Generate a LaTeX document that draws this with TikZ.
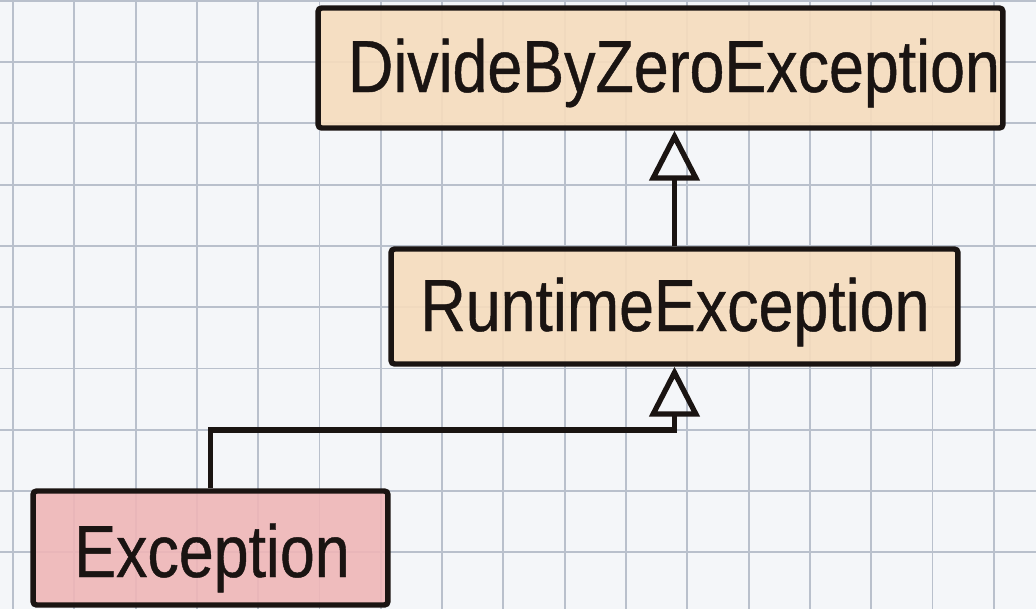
\documentclass[tikz,border=0pt]{standalone}
\usepackage{fontspec}
\usetikzlibrary{arrows.meta}
\newfontfamily\boxfont[FakeStretch=0.85, FakeBold=0.6]{Liberation Sans}

\definecolor{paper}{HTML}{F4F6F9}
\definecolor{gridblue}{HTML}{B9C0CC}
\definecolor{peach}{HTML}{F6DCBD}
\definecolor{rose}{HTML}{EFB6B7}
\definecolor{ink}{HTML}{1A1412}

\tikzset{
  gridline/.style={draw=gridblue, line width=1.1pt},
  classbox/.style={rectangle, draw=ink, line width=3.1pt, rounded corners=2pt,
    inner sep=0pt, fill opacity=0.9, text opacity=1},
  peachbox/.style={classbox, fill=peach},
  rosebox/.style={classbox, fill=rose,
    path picture={
      \foreach \k in {-8,...,8}
        \draw[white, opacity=0.45, line width=1.4pt, line cap=round]
          ([xshift=\k cm]path picture bounding box.south west)
          ++(0.3,0.2) -- ++(1.6,1.3);
    }},
  classname/.style={anchor=base, text=ink, inner sep=0pt,
    font=\boxfont\fontsize{42}{50}\selectfont},
  inherits/.style={draw=ink, line width=3pt,
    -{Triangle[open, length=1.0cm, width=1.0cm]}},
}

\begin{document}
\begin{tikzpicture}[x=0.02cm, y=-0.02cm]
  % squared paper
  \fill[paper] (0,0) rectangle (1036,609);
  \useasboundingbox (0,0) rectangle (1036,609);
  \foreach \k in {0,...,16}
    \draw[gridline] ({13+61.3*\k},0) -- ({13+61.3*\k},609);
  \foreach \k in {0,...,9}
    \draw[gridline] (0,{0.7+61.3*\k}) -- (1036,{0.7+61.3*\k});

  % class boxes
  \node[peachbox, minimum width=13.7cm, minimum height=2.4cm] (dbz) at (660.5,68) {};
  \node[peachbox, minimum width=11.34cm, minimum height=2.3cm] (rt) at (674.5,306.5) {};
  \node[rosebox, minimum width=7.1cm, minimum height=2.28cm] (ex) at (210.5,548) {};

  % class names
  \node[classname] (dbzname) at (674,92) {DivideByZeroException};
  \node[classname] (rtname) at (675,331) {RuntimeException};
  \node[classname] (exname) at (212,577) {Exception};

  % inheritance arrows
  \draw[inherits] (rt.north) -- (rt.north |- dbz.south);
  \coordinate (bend) at (674.5,430);
  \draw[inherits] (ex.north) |- (bend) -- (rt.south);
\end{tikzpicture}
\end{document}
